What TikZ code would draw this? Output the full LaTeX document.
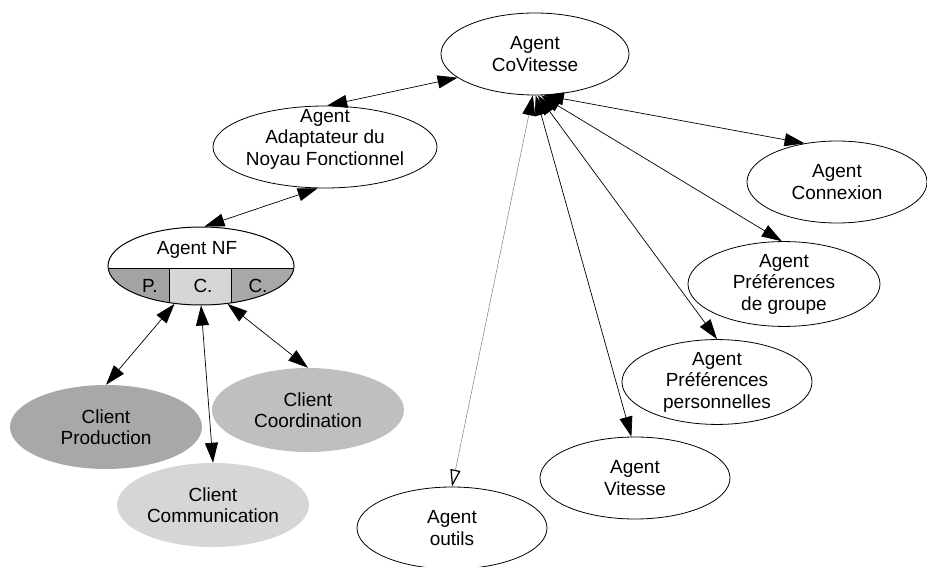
\documentclass[tikz,border=0pt]{standalone}
\usepackage{fontspec}
\setmainfont{Liberation Sans}
\usetikzlibrary{shapes.geometric,arrows.meta}

\definecolor{clientDark}{gray}{0.66}
\definecolor{clientMid}{gray}{0.75}
\definecolor{clientLight}{gray}{0.84}

\begin{document}
\begin{tikzpicture}
[x=1pt,y=-1pt,
  agentDecorate/.style={shape=ellipse,draw,line width=0.8pt,inner sep=0pt,
    minimum height=82pt,align=center,font=\fontsize{19}{21.5}\selectfont},
  clientDecorate/.style={shape=ellipse,inner sep=0pt,minimum width=192pt,
    minimum height=84pt,align=center,font=\fontsize{19}{21.5}\selectfont},
  textDecorate/.style={inner sep=0pt,font=\fontsize{19}{21.5}\selectfont},
  lineDecorate/.style={{Triangle[length=20pt,width=13pt]}-{Triangle[length=20pt,width=13pt]},line width=0.7pt},
  toolDecorate/.style={{Triangle[length=20pt,width=13pt,color=black]}-{Triangle[open,length=17pt,width=10pt,line width=1.2pt,color=black]},
    draw=gray,line width=0.5pt}]
\useasboundingbox (0,0) rectangle (927,567);
%% agents
\foreach \nodename/\x/\y/\w/\txt in {
  covitesse/535/54/188/{Agent\\CoVitesse},
  adaptateur/325/147/190/{\raisebox{3pt}[0pt][0pt]{\begin{tabular}{@{}c@{}}Agent\\Adaptateur du\\Noyau Fonctionnel\end{tabular}}},
  connexion/837/182/180/{Agent\\Connexion},
  groupe/784/284/192/{Agent\\Préférences\\de groupe},
  perso/717/382/190/{Agent\\Préférences\\personnelles},
  vitesse/635/478/190/{Agent\\Vitesse},
  outils/452/528/190/{Agent\\outils}}
{
  \node (\nodename) at (\x,\y) [agentDecorate,minimum width=\w pt] {\txt};
}
%% agent NF, split in three
\begin{scope}
  \clip (201,266) ellipse [x radius=93pt,y radius=39pt];
  \fill[gray!72] (100,268) rectangle (169,310);
  \fill[clientLight] (169,268) rectangle (231,310);
  \fill[clientDark] (231,268) rectangle (300,310);
  \draw[line width=0.8pt] (100,268) -- (300,268);
  \draw[line width=0.8pt] (169,268) -- (169,310) (231,268) -- (231,310);
\end{scope}
\node (nf) at (201,266) [shape=ellipse,draw,line width=1pt,inner sep=0pt,
  minimum width=186pt,minimum height=78pt] {};
\node (nfTitle) at (197,250) [textDecorate] {Agent NF};
\node (segP) at (150,286) [textDecorate] {P.};
\node (segC) at (203,286) [textDecorate] {C.};
\node (segD) at (258,286) [textDecorate] {C.};
%% clients
\foreach \nodename/\x/\y/\col/\txt in {
  production/106/427/clientDark/{Client\\Production},
  coordination/308/410/clientMid/{Client\\Coordination},
  communication/213/505/clientLight/{Client\\Communication}}
{
  \node (\nodename) at (\x,\y) [clientDecorate,fill=\col] {\txt};
}
%% links
\path
\foreach \startnode/\endnode in {
  covitesse.197/adaptateur.87, adaptateur.-100/nf.85,
  nf.-125/production.north, nf.-90/communication.north, nf.-55/coordination.north,
  covitesse.-78/connexion.130, covitesse.-82/groupe.93,
  covitesse.-86/perso.north, covitesse.-89/vitesse.95}
{
  (\startnode) edge[lineDecorate] (\endnode)
};
\draw[toolDecorate] (covitesse.-93) -- (outils.north);
\end{tikzpicture}
\end{document}
